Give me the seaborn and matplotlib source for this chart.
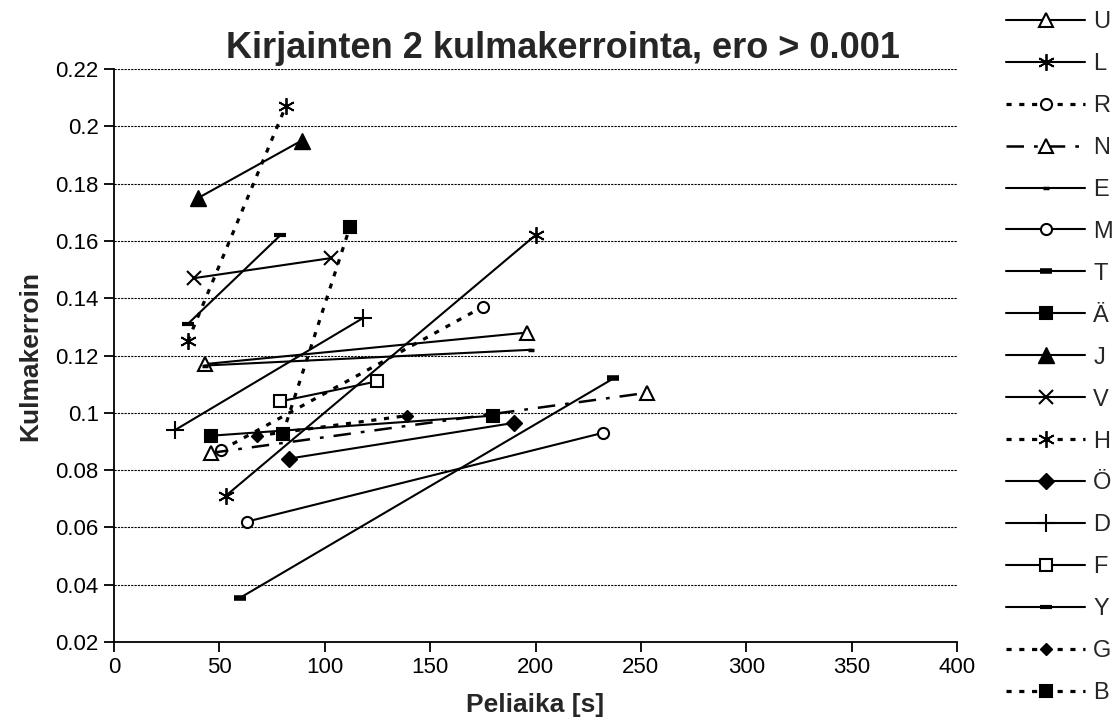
import numpy as np
import pandas as pd
import matplotlib
matplotlib.use("Agg")
import matplotlib.pyplot as plt
from matplotlib.ticker import FuncFormatter
import seaborn as sns

# Two measured slope values per letter: (game time [s], slope coefficient)
letters = ["U", "L", "R", "N", "E", "M", "T", "Ä", "J", "V", "H", "Ö", "D", "F", "Y", "G", "B"]

U_x, U_y = [43, 196], [0.117, 0.128]
L_x, L_y = [53, 200], [0.071, 0.162]
R_x, R_y = [51, 175], [0.087, 0.137]
N_x, N_y = [46, 253], [0.086, 0.107]
E_x, E_y = [43, 198], [0.1165, 0.122]
M_x, M_y = [63, 232], [0.062, 0.093]
T_x, T_y = [60, 237], [0.0355, 0.112]
AE_x, AE_y = [46, 180], [0.092, 0.099]
J_x, J_y = [40, 89], [0.175, 0.195]
V_x, V_y = [38, 103], [0.147, 0.154]
H_x, H_y = [35, 81.5], [0.125, 0.207]
OE_x, OE_y = [83, 190], [0.084, 0.0965]
D_x, D_y = [29, 118], [0.094, 0.133]
F_x, F_y = [79, 125], [0.104, 0.111]
Y_x, Y_y = [35, 79], [0.131, 0.162]
G_x, G_y = [68, 139], [0.092, 0.099]
B_x, B_y = [80, 112], [0.0925, 0.165]

series_x = [U_x, L_x, R_x, N_x, E_x, M_x, T_x, AE_x, J_x, V_x, H_x, OE_x, D_x, F_x, Y_x, G_x, B_x]
series_y = [U_y, L_y, R_y, N_y, E_y, M_y, T_y, AE_y, J_y, V_y, H_y, OE_y, D_y, F_y, Y_y, G_y, B_y]

x_ticks = [0, 50, 100, 150, 200, 250, 300, 350, 400]
y_ticks = [0.02, 0.04, 0.06, 0.08, 0.10, 0.12, 0.14, 0.16, 0.18, 0.20, 0.22]

# Line / marker style per letter
SOLID = "-"
DOTTED = (0, (1.6, 2.4))
DASHDOT = (0, (7, 4, 1.5, 4))
ASTER = (6, 2, 0)
styles = {
    "U": dict(ls=SOLID, marker="^", ms=10, mfc="white", mew=1.5),
    "L": dict(ls=SOLID, marker=ASTER, ms=12, mfc="black", mew=1.3),
    "R": dict(ls=DOTTED, lw=2.3, marker="o", ms=8, mfc="white", mew=1.5),
    "N": dict(ls=DASHDOT, lw=1.8, marker="^", ms=10, mfc="white", mew=1.5),
    "E": dict(ls=SOLID, marker="_", ms=5, mew=2.5),
    "M": dict(ls=SOLID, marker="o", ms=8, mfc="white", mew=1.5),
    "T": dict(ls=SOLID, marker="_", ms=9, mew=4),
    "Ä": dict(ls=SOLID, marker="s", ms=9, mfc="black", mew=1.5),
    "J": dict(ls=SOLID, marker="^", ms=12, mfc="black", mew=1.0),
    "V": dict(ls=SOLID, marker="x", ms=10, mew=1.5),
    "H": dict(ls=DOTTED, lw=2.3, marker=ASTER, ms=12, mfc="black", mew=1.3),
    "Ö": dict(ls=SOLID, marker="D", ms=8, mfc="black", mew=1.0),
    "D": dict(ls=SOLID, marker="+", ms=13, mew=1.5),
    "F": dict(ls=SOLID, marker="s", ms=8, mfc="white", mew=1.5),
    "Y": dict(ls=SOLID, marker="_", ms=9, mew=3),
    "G": dict(ls=DOTTED, lw=2.3, marker="D", ms=6, mfc="black", mew=1.0),
    "B": dict(ls=DOTTED, lw=2.3, marker="s", ms=9, mfc="black", mew=1.5),
}

sns.set_style("white")
plt.rcParams["font.family"] = ["Liberation Sans", "DejaVu Sans"]

fig = plt.figure(figsize=(11.2, 7.2), dpi=100)
ax = fig.add_axes([114 / 1120, 78 / 720, 843 / 1120, 573 / 720])

for name, xs, ys in zip(letters, series_x, series_y):
    st = dict(styles[name])
    df = pd.DataFrame({"t": xs, "k": ys})
    sns.lineplot(
        data=df, x="t", y="k", ax=ax, sort=False, estimator=None, legend=False,
        color="black", linestyle=st.pop("ls"), linewidth=st.pop("lw", 1.5),
        marker=st.pop("marker"), markersize=st.pop("ms"),
        markerfacecolor=st.pop("mfc", "black"), markeredgecolor="black",
        markeredgewidth=st.pop("mew"), label=name, zorder=3,
    )

ax.set_xlim(0, 400)
ax.set_ylim(0.02, 0.22)
ax.set_xticks(x_ticks)
ax.set_yticks(y_ticks)
ax.yaxis.set_major_formatter(FuncFormatter(lambda v, _: f"{v:g}"))

ax.grid(axis="y", color="black", linestyle=(0, (2.0, 1.0)), linewidth=0.8)
ax.grid(axis="x", visible=False)
for side in ("top", "right"):
    ax.spines[side].set_visible(False)
for side in ("left", "bottom"):
    ax.spines[side].set_color("black")
    ax.spines[side].set_linewidth(1.3)
ax.tick_params(axis="both", direction="out", length=7, width=1.3, color="black",
               labelsize=16, labelcolor="black", pad=4,
               left=True, bottom=True)

ax.set_xlabel("Peliaika [s]", fontsize=19, fontweight="bold", va="center")
ax.xaxis.set_label_coords(0.5, -0.11)
ax.set_ylabel("Kulmakerroin", fontsize=19, fontweight="bold", va="center")
ax.yaxis.set_label_coords(-0.099, 0.5)

fig.text(563 / 1120, 1 - 58 / 720, "Kirjainten 2 kulmakerrointa, ero > 0.001",
         fontsize=26, fontweight="bold", ha="center", va="baseline")

handles, labels = ax.get_legend_handles_labels()
fig.legend(handles, labels, loc="upper left", bbox_to_anchor=(1006 / 1120, 1 - 11 / 720),
           frameon=False, fontsize=17, handlelength=3.35, handletextpad=0.34,
           labelspacing=0.845, borderpad=0, borderaxespad=0)

fig.savefig("out.png", dpi=100)
